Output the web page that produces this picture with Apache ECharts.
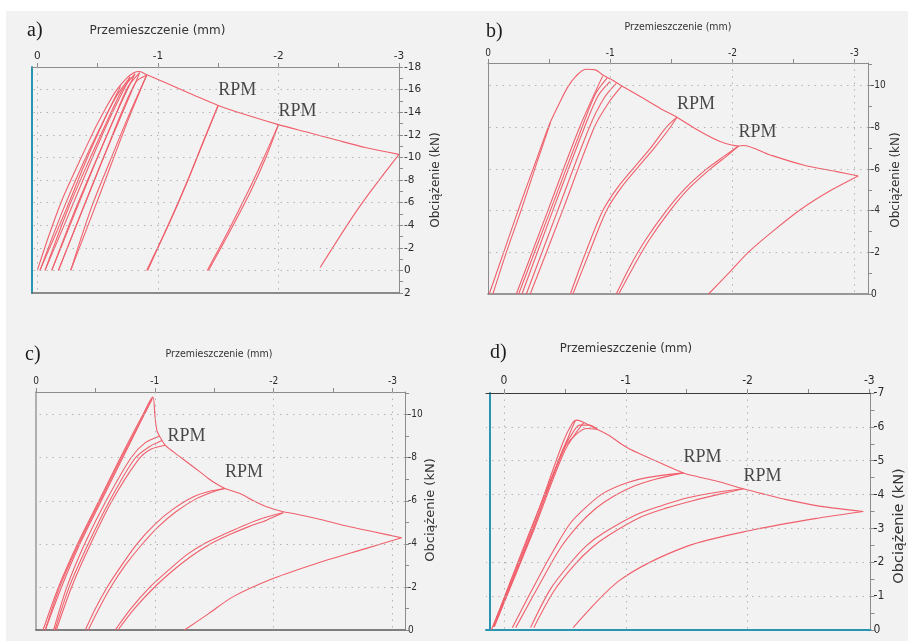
<!DOCTYPE html>
<html>
<head>
<meta charset="utf-8">
<title>Przemieszczenie – Obciążenie</title>
<script src="https://cdn.jsdelivr.net/npm/echarts@6/dist/echarts.min.js"></script>
<style>
  html, body { margin: 0; padding: 0; background: #fff; }
  #wrap { position: relative; width: 908px; height: 641px; }
  #paper { position: absolute; left: 6px; top: 11px; width: 902px; height: 630px; background: #f2f2f2; }
  #chart { position: absolute; left: 0; top: 0; width: 908px; height: 641px; }
</style>
</head>
<body>
<div id="wrap">
  <div id="paper"></div>
  <div id="chart"></div>
</div>
<script>
// --- tick values (shared) ---
const xTickValues = [0, -0.5, -1, -1.5, -2, -2.5, -3];
const xLabelValues = [0, -1, -2, -3];

const aYTicks = [2, 1, 0, -1, -2, -3, -4, -5, -6, -7, -8, -9, -10, -11, -12, -13, -14, -15, -16, -17, -18];
const aYLabels = [2, 0, -2, -4, -6, -8, -10, -12, -14, -16, -18];
const bcYTicks = [0, -1, -2, -3, -4, -5, -6, -7, -8, -9, -10, -11];
const bcYLabels = [0, -2, -4, -6, -8, -10];
const dYTicks = [0, -0.5, -1, -1.5, -2, -2.5, -3, -3.5, -4, -4.5, -5, -5.5, -6, -6.5, -7];
const dYLabels = [0, -1, -2, -3, -4, -5, -6, -7];

// dotted grid lines
const aGridX = [0, -1, -2];
const aGridY = [-16, -14, -12, -10, -8, -6, -4, -2, 0];
const bGridX = [-1, -2, -3];
const bGridY = [-10, -8, -6, -4, -2];
const cGridX = [-1, -2, -3];
const cGridY = [-10, -8, -6, -4, -2];
const dGridX = [0, -1, -2];
const dGridY = [-6, -5, -4, -3, -2, -1];

// --- panel a) [przemieszczenie mm, obciążenie kN] ---
const aEnvelope = [[0,0],[-0.1,-3.2],[-0.2,-6.1],[-0.3,-8.5],[-0.4,-10.8],[-0.49,-12.8],[-0.58,-14.6],[-0.66,-16.0],[-0.74,-17.0],[-0.8,-17.5],[-0.85,-17.6],[-0.9,-17.35],[-1.0,-16.9],[-1.13,-16.3],[-1.3,-15.5],[-1.5,-14.6],[-1.75,-13.7],[-2.0,-12.9],[-2.25,-12.2],[-2.46,-11.6],[-2.73,-10.85],[-3.0,-10.27]];
const aLoops = [
  [[-0.69,-16.3],[-0.55,-13.2],[-0.4,-9.6],[-0.24,-5.4],[-0.022,0]],
  [[-0.022,0],[-0.2,-5.0],[-0.36,-9.0],[-0.52,-12.6],[-0.65,-15.3],[-0.77,-17.1]],
  [[-0.77,-17.1],[-0.62,-13.9],[-0.45,-9.8],[-0.27,-5.2],[-0.064,0]],
  [[-0.064,0],[-0.25,-5.3],[-0.42,-9.5],[-0.57,-13.0],[-0.7,-15.9],[-0.81,-17.4]],
  [[-0.81,-17.4],[-0.66,-14.0],[-0.5,-10.0],[-0.32,-5.3],[-0.12,0]],
  [[-0.12,0],[-0.3,-5.0],[-0.47,-9.3],[-0.62,-13.0],[-0.75,-16.2],[-0.85,-17.5]],
  [[-0.85,-17.5],[-0.7,-13.8],[-0.53,-9.5],[-0.36,-5.0],[-0.175,0]],
  [[-0.175,0],[-0.37,-5.2],[-0.55,-10.0],[-0.7,-14.0],[-0.82,-16.7],[-0.907,-17.27]],
  [[-0.907,-17.27],[-0.75,-13.5],[-0.6,-9.6],[-0.45,-5.6],[-0.277,0]],
  [[-0.277,0],[-0.45,-4.8],[-0.61,-9.3],[-0.76,-13.5],[-0.88,-16.6],[-0.907,-17.27]],
  [[-1.5,-14.6],[-1.38,-11.5],[-1.25,-8.0],[-1.1,-4.3],[-0.907,0]],
  [[-0.915,0],[-1.11,-4.6],[-1.26,-8.3],[-1.39,-11.7],[-1.5,-14.6]],
  [[-2.0,-12.9],[-1.88,-10.0],[-1.74,-6.8],[-1.58,-3.4],[-1.41,0]],
  [[-1.42,0],[-1.6,-3.5],[-1.77,-7.0],[-1.9,-10.1],[-2.0,-12.9]],
  [[-3.0,-10.27],[-2.67,-5.6],[-2.346,-0.25]]
];
const aRpm = [[-1.5,-14.6],[-2.0,-12.9]];

// --- panel b) ---
const bEnvelope = [[-0.01,0],[-0.14,-2.2],[-0.27,-4.4],[-0.4,-6.5],[-0.5,-8.1],[-0.58,-9.1],[-0.65,-9.9],[-0.72,-10.45],[-0.8,-10.78],[-0.88,-10.75],[-0.94,-10.5],[-1.02,-10.25],[-1.096,-9.98],[-1.246,-9.47],[-1.41,-8.9],[-1.546,-8.48],[-1.737,-7.79],[-1.9,-7.31],[-2.05,-7.1],[-2.09,-7.12],[-2.31,-6.67],[-2.58,-6.19],[-2.855,-5.87],[-3.03,-5.66]];
const bLoops = [
  [[-0.51,-8.2],[-0.4,-6.3],[-0.27,-4.0],[-0.15,-2.0],[-0.04,0]],
  [[-0.938,-10.45],[-0.75,-8.0],[-0.49,-4.0],[-0.232,0]],
  [[-0.251,0],[-0.51,-4.0],[-0.77,-8.0],[-0.88,-9.6],[-0.974,-10.35]],
  [[-1.0,-10.2],[-0.9,-9.5],[-0.79,-8.0],[-0.53,-4.0],[-0.278,0]],
  [[-0.314,0],[-0.57,-4.0],[-0.83,-8.0],[-0.95,-9.4],[-1.05,-10.1]],
  [[-1.096,-9.98],[-0.99,-9.2],[-0.87,-8.0],[-0.61,-4.0],[-0.346,0]],
  [[-0.674,0],[-0.8,-2.0],[-0.94,-4.0],[-1.06,-5.1],[-1.2,-6.1],[-1.33,-7.0],[-1.46,-8.0],[-1.546,-8.48]],
  [[-0.695,0],[-0.83,-2.0],[-0.97,-4.0],[-1.09,-5.1],[-1.23,-6.1],[-1.36,-7.0],[-1.48,-7.9],[-1.546,-8.48]],
  [[-1.05,0],[-1.16,-1.3],[-1.29,-2.6],[-1.46,-4.0],[-1.62,-5.1],[-1.79,-6.0],[-1.93,-6.6],[-2.05,-7.1]],
  [[-1.07,0],[-1.19,-1.3],[-1.32,-2.6],[-1.49,-4.0],[-1.65,-5.1],[-1.82,-6.0],[-1.95,-6.6],[-2.05,-7.1]],
  [[-1.805,0],[-1.97,-1.0],[-2.13,-2.0],[-2.35,-3.1],[-2.57,-4.1],[-2.8,-4.95],[-3.03,-5.66]]
];
const bRpm = [[-1.546,-8.48],[-2.05,-7.1]];

// --- panel c) ---
const cEnvelope = [[-0.059,0],[-0.19,-2],[-0.35,-4],[-0.53,-6],[-0.71,-8],[-0.9,-10],[-0.983,-10.82],[-1.0,-10.0],[-1.017,-9.27],[-1.04,-9.0],[-1.087,-8.58],[-1.157,-8.27],[-1.27,-7.8],[-1.38,-7.34],[-1.49,-6.88],[-1.59,-6.57],[-1.717,-6.34],[-1.83,-6.0],[-1.94,-5.72],[-2.08,-5.49],[-2.165,-5.41],[-2.36,-5.18],[-2.64,-4.79],[-2.84,-4.56],[-3.076,-4.28]];
const cLoops = [
  [[-0.983,-10.82],[-0.91,-10.0],[-0.73,-8],[-0.55,-6],[-0.37,-4],[-0.215,-2],[-0.078,0]],
  [[-0.078,0],[-0.2,-2],[-0.36,-4],[-0.54,-6],[-0.72,-8],[-0.9,-9.9],[-0.975,-10.7]],
  [[-1.04,-9.0],[-0.92,-8.7],[-0.8,-8],[-0.59,-6],[-0.41,-4],[-0.26,-2],[-0.148,0]],
  [[-0.16,0],[-0.28,-2],[-0.44,-4],[-0.62,-6],[-0.83,-7.95],[-0.95,-8.5],[-1.06,-8.8]],
  [[-1.087,-8.58],[-0.97,-8.4],[-0.86,-7.9],[-0.64,-6],[-0.46,-4],[-0.3,-2],[-0.171,0]],
  [[-0.415,0],[-0.5,-1.0],[-0.6,-2.0],[-0.72,-3.0],[-0.85,-4.0],[-1.0,-4.9],[-1.15,-5.6],[-1.33,-6.2],[-1.47,-6.45],[-1.59,-6.57]],
  [[-0.44,0],[-0.53,-1.0],[-0.63,-2.0],[-0.75,-3.0],[-0.88,-3.9],[-1.03,-4.8],[-1.18,-5.5],[-1.35,-6.1],[-1.48,-6.4],[-1.59,-6.57]],
  [[-0.667,0],[-0.8,-1.0],[-0.96,-2.0],[-1.12,-2.8],[-1.27,-3.5],[-1.43,-4.05],[-1.605,-4.5],[-1.76,-4.88],[-1.913,-5.2],[-2.08,-5.44]],
  [[-0.69,0],[-0.83,-1.0],[-0.99,-1.95],[-1.15,-2.75],[-1.3,-3.4],[-1.46,-3.97],[-1.63,-4.43],[-1.79,-4.8],[-1.94,-5.1],[-2.08,-5.44]],
  [[-1.25,0],[-1.45,-0.75],[-1.66,-1.55],[-2.0,-2.4],[-2.36,-3.09],[-2.78,-3.79],[-3.076,-4.28]]
];
const cRpm = [[-1.04,-9.0],[-1.59,-6.57]];

// --- panel d) ---
const dEnvelope = [[0.104,0],[-0.229,-3.0],[-0.48,-5.5],[-0.56,-6.1],[-0.6,-6.2],[-0.655,-6.13],[-0.764,-5.93],[-0.87,-5.73],[-0.96,-5.5],[-1.04,-5.33],[-1.23,-5.02],[-1.474,-4.64],[-1.6,-4.52],[-1.775,-4.37],[-1.966,-4.17],[-2.15,-4.0],[-2.32,-3.85],[-2.59,-3.66],[-2.95,-3.5]];
const dLoops = [
  [[-0.587,-6.2],[-0.47,-5.2],[-0.2,-2.8],[0.09,-0.1]],
  [[0.09,-0.1],[-0.22,-2.8],[-0.48,-5.3],[-0.56,-5.8],[-0.62,-6.05],[-0.7,-6.05],[-0.764,-5.93]],
  [[-0.655,-6.13],[-0.5,-5.3],[-0.25,-3.0],[0.08,-0.1]],
  [[0.08,-0.1],[-0.24,-3.0],[-0.5,-5.4],[-0.6,-5.8],[-0.68,-5.95],[-0.764,-5.93]],
  [[-0.068,-0.07],[-0.273,-1.48],[-0.41,-2.37],[-0.546,-3.16],[-0.683,-3.66],[-0.82,-4.05],[-1.01,-4.35],[-1.174,-4.5],[-1.474,-4.64]],
  [[-0.096,-0.07],[-0.3,-1.4],[-0.45,-2.35],[-0.6,-3.05],[-0.75,-3.58],[-0.9,-3.95],[-1.07,-4.25],[-1.25,-4.46],[-1.474,-4.64]],
  [[-0.218,-0.07],[-0.38,-1.2],[-0.546,-1.98],[-0.68,-2.5],[-0.82,-2.87],[-1.09,-3.41],[-1.3,-3.68],[-1.5,-3.9],[-1.75,-4.07],[-1.966,-4.17]],
  [[-0.245,-0.07],[-0.41,-1.15],[-0.58,-1.93],[-0.72,-2.43],[-0.86,-2.8],[-1.12,-3.33],[-1.33,-3.6],[-1.55,-3.82],[-1.78,-4.02],[-1.966,-4.17]],
  [[-2.95,-3.5],[-2.59,-3.31],[-2.05,-2.96],[-1.5,-2.47],[-0.955,-1.48],[-0.568,-0.07]]
];
const dRpm = [[-1.474,-4.64],[-1.966,-4.17]];

const RED = '#f05f6b';
const TEAL = '#2a95b0';
const SANS = 'DejaVu Sans';
const COND = 'DejaVu Sans Condensed, DejaVu Sans';
const SERIF = 'Liberation Serif';

const panels = [
  {
    lines: [aEnvelope, ...aLoops], rpm: aRpm,
    rpmLabel: [{position: 'top', distance: 5, offset: [0, 0]}, {position: 'top', distance: 3, offset: [-4, 0]}],
    grid: {left: 32, top: 67, width: 367, height: 226},
    xMin: -3, xMax: 0.044, yMin: -18, yMax: 2,
    yTicks: aYTicks, yLabels: aYLabels, gridX: aGridX, gridY: aGridY,
    topColor: '#8c8c8c', bottomColor: '#6a6a6a', leftColor: TEAL, leftWidth: 2, leftOffset: 0, bottomWidth: 1.5,
    font: SANS, fontSize: 10.5, xMargin: 5, yMargin: 5
  },
  {
    lines: [bEnvelope, ...bLoops], rpm: bRpm,
    rpmLabel: [{position: 'top', distance: 3, offset: [0, 0]}, {position: 'top', distance: 4, offset: [-1, 0]}],
    grid: {left: 488, top: 63, width: 380, height: 231},
    xMin: -3.11, xMax: 0, yMin: -11.08, yMax: 0,
    yTicks: bcYTicks, yLabels: bcYLabels, gridX: bGridX, gridY: bGridY,
    topColor: '#8c8c8c', bottomColor: '#7a7a7a', leftColor: '#8c8c8c', leftWidth: 1, leftOffset: 0, bottomWidth: 1.5,
    font: COND, fontSize: 10, xMargin: 5, yMargin: 3
  },
  {
    lines: [cEnvelope, ...cLoops], rpm: cRpm,
    rpmLabel: [{position: 'right', distance: 7, offset: [0, -2]}, {position: 'top', distance: 6, offset: [-2, 0]}],
    grid: {left: 36, top: 392, width: 369, height: 238},
    xMin: -3.105, xMax: 0, yMin: -11.05, yMax: 0,
    yTicks: bcYTicks, yLabels: bcYLabels, gridX: cGridX, gridY: cGridY,
    topColor: '#8c8c8c', bottomColor: '#5a5a5a', leftColor: '#9a9a9a', leftWidth: 1.5, leftOffset: 0, bottomWidth: 1.5,
    font: COND, fontSize: 10, xMargin: 6, yMargin: 3
  },
  {
    lines: [dEnvelope, ...dLoops], rpm: dRpm,
    rpmLabel: [{position: 'top', distance: 6, offset: [-4, 0]}, {position: 'top', distance: 3, offset: [-1, 0]}],
    grid: {left: 486, top: 393, width: 384.5, height: 237},
    xMin: -3.01, xMax: 0.148, yMin: -7, yMax: 0,
    yTicks: dYTicks, yLabels: dYLabels, gridX: dGridX, gridY: dGridY,
    topColor: '#3a3a3a', bottomColor: TEAL, leftColor: TEAL, leftWidth: 2, leftOffset: -4, bottomWidth: 2,
    font: COND, fontSize: 12, xMargin: 6, yMargin: 3
  }
];

const option = {
  animation: false,
  grid: [],
  xAxis: [],
  yAxis: [],
  series: [],
  graphic: []
};

panels.forEach((p, i) => {
  option.grid.push(Object.assign({outerBoundsMode: 'none', containLabel: false}, p.grid));

  const xBase = {gridIndex: i, type: 'value', inverse: true, min: p.xMin, max: p.xMax, splitLine: {show: false}};
  const yBase = {gridIndex: i, type: 'value', inverse: true, min: p.yMin, max: p.yMax, splitLine: {show: false}};
  const labelStyle = {fontFamily: p.font, fontSize: p.fontSize, color: '#2b2b2b'};

  option.xAxis.push(Object.assign({}, xBase, {
    position: 'top',
    axisLine: {onZero: false, lineStyle: {color: p.topColor, width: 1}},
    axisTick: {customValues: xTickValues, length: 4, lineStyle: {color: '#8c8c8c'}},
    axisLabel: Object.assign({customValues: xLabelValues, margin: p.xMargin}, labelStyle)
  }));
  option.xAxis.push(Object.assign({}, xBase, {
    position: 'bottom',
    axisLine: {onZero: false, lineStyle: {color: p.bottomColor, width: p.bottomWidth}},
    axisTick: {show: false},
    axisLabel: {show: false}
  }));
  option.yAxis.push(Object.assign({}, yBase, {
    position: 'right',
    axisLine: {onZero: false, lineStyle: {color: '#8c8c8c', width: 1}},
    axisTick: {customValues: p.yTicks, length: 4},
    axisLabel: Object.assign({customValues: p.yLabels, margin: p.yMargin}, labelStyle)
  }));
  option.yAxis.push(Object.assign({}, yBase, {
    position: 'left',
    offset: p.leftOffset,
    axisLine: {onZero: false, lineStyle: {color: p.leftColor, width: p.leftWidth}},
    axisTick: {show: false},
    axisLabel: {show: false}
  }));

  const xi = 2 * i, yi = 2 * i;

  // dotted grid lines
  option.series.push({
    type: 'line', xAxisIndex: xi, yAxisIndex: yi, data: [], silent: true, z: 1,
    markLine: {
      silent: true, symbol: ['none', 'none'], label: {show: false},
      lineStyle: {color: '#b4b4b4', type: [1.5, 5], width: 1},
      emphasis: {disabled: true},
      data: p.gridX.map(v => ({xAxis: v})).concat(p.gridY.map(v => ({yAxis: v})))
    }
  });

  p.lines.forEach(line => {
    option.series.push({
      type: 'line', xAxisIndex: xi, yAxisIndex: yi, data: line,
      showSymbol: false, symbol: 'none', silent: true, z: 3, smooth: 0.3,
      lineStyle: {color: RED, width: 1.1}
    });
  });

  option.series.push({
    type: 'scatter', xAxisIndex: xi, yAxisIndex: yi, symbolSize: 2, silent: true, z: 5,
    itemStyle: {color: 'rgba(0,0,0,0)'},
    label: {show: true, formatter: 'RPM', fontFamily: SERIF, fontSize: 18, color: '#1c1c1c', align: 'left'},
    labelLayout: {hideOverlap: false},
    data: p.rpm.map((pt, k) => ({value: pt, label: Object.assign({show: true}, p.rpmLabel[k])}))
  });
});

// panel letters, axis titles
const textItems = [
  {text: 'a)', x: 27, y: 31, font: SERIF, size: 20, align: 'left'},
  {text: 'b)', x: 486, y: 32, font: SERIF, size: 20, align: 'left'},
  {text: 'c)', x: 25, y: 355, font: SERIF, size: 20, align: 'left'},
  {text: 'd)', x: 490, y: 353, font: SERIF, size: 20, align: 'left'},
  {text: 'Przemieszczenie (mm)', x: 157.5, y: 31, font: SANS, size: 12, align: 'center'},
  {text: 'Przemieszczenie (mm)', x: 678, y: 27, font: COND, size: 10.5, align: 'center'},
  {text: 'Przemieszczenie (mm)', x: 219, y: 354, font: COND, size: 10.5, align: 'center'},
  {text: 'Przemieszczenie (mm)', x: 626, y: 349, font: COND, size: 13, align: 'center'},
  {text: 'Obciążenie (kN)', x: 436, y: 180, font: SANS, size: 12, align: 'center', rot: true},
  {text: 'Obciążenie (kN)', x: 896, y: 180, font: SANS, size: 12, align: 'center', rot: true},
  {text: 'Obciążenie (kN)', x: 431, y: 510, font: SANS, size: 13, align: 'center', rot: true},
  {text: 'Obciążenie (kN)', x: 899, y: 526, font: SANS, size: 14.5, align: 'center', rot: true}
];
option.graphic = textItems.map(t => ({
  type: 'text', x: t.x, y: t.y, rotation: t.rot ? Math.PI / 2 : 0, silent: true,
  style: {
    text: t.text, fontFamily: t.font, fontSize: t.size,
    fill: t.font === SERIF ? '#1c1c1c' : '#333',
    textAlign: t.align, textVerticalAlign: 'middle'
  }
}));

const chart = echarts.init(document.getElementById('chart'), null, {renderer: 'canvas'});
chart.setOption(option);
</script>
</body>
</html>
